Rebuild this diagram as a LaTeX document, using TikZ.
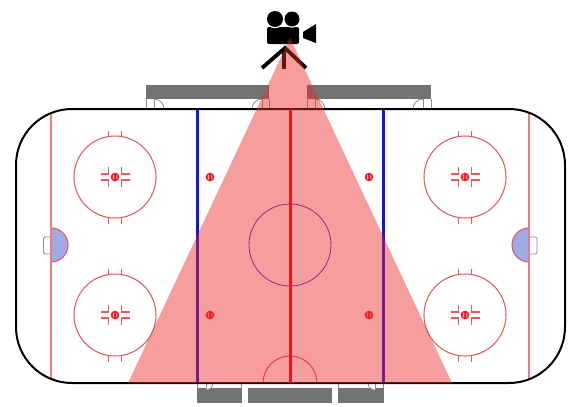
\documentclass[tikz,border=0pt]{standalone}
\definecolor{rinkred}{RGB}{226,92,92}
\definecolor{goalred}{RGB}{235,125,125}
\definecolor{linered}{RGB}{240,20,30}
\definecolor{linkblue}{RGB}{20,20,225}
\definecolor{creasefill}{RGB}{160,170,230}
\definecolor{benchgray}{RGB}{115,115,115}
\definecolor{frame}{RGB}{140,140,140}
\definecolor{conered}{RGB}{235,40,40}
\tikzset{
  thinred/.style={draw=rinkred,line width=1.05pt},
  bench/.style={fill=benchgray,draw=none},
  benchline/.style={draw=frame,line width=0.8pt},
  cone/.style={fill=conered,fill opacity=0.45,draw=none},
}
\newcommand{\fdot}[2]{%
  \fill[linered] (#1,#2) circle (4.3);
  \fill[white!65!red] (#1-1.5,#2) ellipse (0.8 and 2.6);
  \fill[white!65!red] (#1+1.8,#2) ellipse (0.6 and 2.4);}
\newcommand{\faceoff}[2]{%
  \begin{scope}[shift={(#1,#2)}]
    \draw[thinred] (0,0) circle (41);
    \foreach \sx in {-1,1}{
      \draw[thinred] (\sx*6.5,-46.5) -- (\sx*6.5,-41);
      \draw[thinred] (\sx*6.5,41) -- (\sx*6.5,46.5);
      \draw[thinred] (\sx*6.5,-10) -- (\sx*6.5,-3) -- (\sx*14.5,-3);
      \draw[thinred] (\sx*6.5,10) -- (\sx*6.5,3) -- (\sx*14.5,3);
    }
    \fdot{0}{0}
  \end{scope}}
\begin{document}
\begin{tikzpicture}[x=1pt,y=-1pt]
\useasboundingbox (0,0) rectangle (571,407);
% benches, top
\fill[bench] (146,85) rectangle (269,99);
\fill[bench] (307,85) rectangle (431,99);
\draw[benchline] (146,99) -- (146,109);
\draw[benchline] (154,99) -- (154,109);
\draw[benchline] (154,99) arc[start angle=-90,end angle=0,radius=10];
\draw[benchline] (269,99) -- (269,109);
\draw[benchline] (262,99) -- (262,109);
\draw[benchline] (262,99) arc[start angle=270,end angle=180,radius=10];
\draw[benchline] (307,99) -- (307,109);
\draw[benchline] (315,99) -- (315,109);
\draw[benchline] (315,99) arc[start angle=-90,end angle=0,radius=10];
\draw[benchline] (431,99) -- (431,109);
\draw[benchline] (423,99) -- (423,109);
\draw[benchline] (423,99) arc[start angle=270,end angle=180,radius=10];
% penalty boxes, bottom
\fill[bench] (197,388) rectangle (242,403);
\fill[bench] (248,388) rectangle (332,403);
\fill[bench] (338,388) rectangle (384,403);
\fill[white] (206,383) -- (213,383) arc[start angle=0,end angle=90,radius=7] -- cycle;
\fill[white] (375,383) -- (368,383) arc[start angle=180,end angle=90,radius=7] -- cycle;
\draw[benchline] (197.4,383) -- (197.4,388);
\draw[benchline] (383.6,383) -- (383.6,388);
\draw[benchline] (241.6,383) -- (241.6,388);
\draw[benchline] (338.4,383) -- (338.4,388);
\draw[benchline] (206,383) -- (206,390);
\draw[benchline] (375,383) -- (375,390);
\draw[benchline] (213,383) arc[start angle=0,end angle=90,radius=7];
\draw[benchline] (368,383) arc[start angle=180,end angle=90,radius=7];
% goals
\draw[benchline,rounded corners=1.5pt] (51,237) -- (43.5,237) -- (43.5,254) -- (51,254);
\draw[benchline,rounded corners=1.5pt] (529,237) -- (537,237) -- (537,254) -- (529,254);
% creases
\filldraw[fill=creasefill,draw=rinkred,line width=1.1pt] (51,228) arc[start angle=-90,end angle=90,radius=17] -- cycle;
\filldraw[fill=creasefill,draw=rinkred,line width=1.1pt] (529,228) arc[start angle=270,end angle=90,radius=17] -- cycle;
% goal lines
\draw[draw=goalred,line width=1.3pt] (51,113) -- (51,379);
\draw[draw=goalred,line width=1.3pt] (529,113) -- (529,379);
% face-offs
\faceoff{115}{177}
\faceoff{115}{315}
\faceoff{465}{177}
\faceoff{465}{315}
\fdot{210}{177}
\fdot{210}{315}
\fdot{369}{177}
\fdot{369}{315}
% centre
\draw[draw=blue!60!rinkred,line width=0.8pt] (290,245) circle (41);
\fill[linkblue] (290,245) circle (1);
\draw[thinred] (263,383) arc[start angle=180,end angle=360,radius=27];
% lines
\draw[linkblue,line width=3pt] (197,109) -- (197,383);
\draw[linkblue,line width=3pt] (383,109) -- (383,383);
% rink
\draw[black,line width=2pt,rounded corners=56pt] (16,109) rectangle (565,383);
% camera
\fill[black,rounded corners=2pt] (267,27) rectangle (299,44);
\draw[white,line width=1.2pt] (275,19) circle (8.6);
\draw[white,line width=1.2pt] (292,19) circle (8.1);
\fill[black] (275,19) circle (8);
\fill[black] (292,19) circle (7.5);
\fill[black] (303,32) -- (316,24) -- (316,43) -- (303,38) -- cycle;
\draw[black,line width=3.8pt] (262,68) -- (285,48) -- (306,68);
\draw[black,line width=3.8pt] (284,48) -- (284,69);
% camera field of view
\fill[cone] (290,38) -- (452,383) -- (128,383) -- cycle;
\draw[linered,line width=3pt] (290,109) -- (290,383);
\end{tikzpicture}
\end{document}
